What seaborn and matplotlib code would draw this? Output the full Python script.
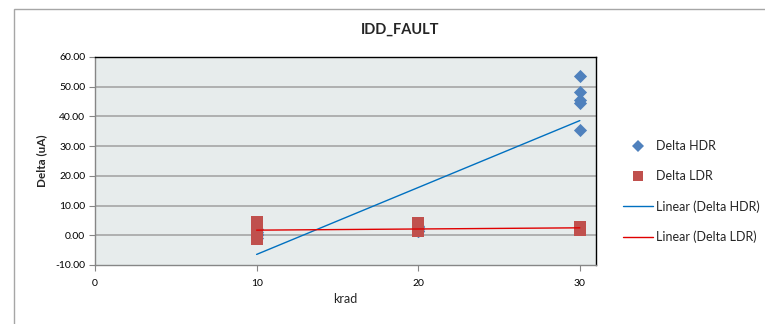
import numpy as np
import pandas as pd
import matplotlib
matplotlib.use("Agg")
import matplotlib.pyplot as plt
from matplotlib.lines import Line2D
from matplotlib.patches import Rectangle
from matplotlib.ticker import FormatStrFormatter
import seaborn as sns

# Measured deltas per dose step
hdr_krad = [10, 10, 10, 10, 10, 20, 20, 20, 20, 20, 30, 30, 30, 30, 30]
hdr_delta = [-1.0, 0.0, 0.5, 1.0, 2.0, 1.3, 1.6, 2.2, 2.7, 3.2, 53.7, 48.3, 45.6, 44.6, 35.5]

ldr_krad = [10, 10, 10, 10, 10, 20, 20, 20, 20, 30, 30, 30]
ldr_delta = [4.5, 3.0, 1.5, 0.0, -1.3, 4.0, 3.0, 2.0, 1.35, 2.7, 2.2, 1.7]

x_ticks = [0, 10, 20, 30]
y_ticks = [-10, 0, 10, 20, 30, 40, 50, 60]

hdr = pd.DataFrame({"krad": hdr_krad, "delta": hdr_delta})
ldr = pd.DataFrame({"krad": ldr_krad, "delta": ldr_delta})

sns.set_theme(style="white")
plt.rcParams["font.family"] = ["Lato", "DejaVu Sans"]

fig = plt.figure(figsize=(7.65, 3.24), dpi=100)
ax = fig.add_axes([95 / 765, 1 - 265 / 324, (596 - 95) / 765, (265 - 57) / 324])

# chart-area border
fig.patches.append(Rectangle((14 / 765, -0.1), 1.2, 1 - 9 / 324 + 0.1,
                             transform=fig.transFigure, fill=False,
                             edgecolor="#A6A6A6", linewidth=1.0))

ax.set_facecolor("#E7ECEC")
for y in y_ticks[1:-1]:
    ax.axhline(y, color="#A6A6A6", linewidth=1.2, zorder=1)

blue_m = "#4F81BD"
red_m = "#C0504D"
blue_l = "#0070C0"
red_l = "#E00000"

sns.scatterplot(data=hdr, x="krad", y="delta", ax=ax, marker="D", s=45,
                color=blue_m, edgecolor=blue_m, linewidth=0, zorder=3, legend=False)
sns.scatterplot(data=ldr, x="krad", y="delta", ax=ax, marker="s", s=66,
                color=red_m, edgecolor=red_m, linewidth=0, zorder=4, legend=False)

sns.regplot(data=hdr, x="krad", y="delta", ax=ax, scatter=False, ci=None,
            truncate=True, line_kws={"color": blue_l, "linewidth": 1.0, "zorder": 5})
sns.regplot(data=ldr, x="krad", y="delta", ax=ax, scatter=False, ci=None,
            truncate=True, line_kws={"color": red_l, "linewidth": 1.0, "zorder": 5})

ax.set_xlim(0, 31)
ax.set_ylim(-10, 60)
ax.set_xticks(x_ticks)
ax.set_yticks(y_ticks)
ax.yaxis.set_major_formatter(FormatStrFormatter("%.2f"))
ax.tick_params(axis="both", which="major", direction="out", length=4, width=0.8,
               color="#868686", labelsize=7.5, colors="black", pad=3)
ax.tick_params(axis="x", pad=6)
ax.tick_params(bottom=True, left=True)

for side in ["left", "bottom"]:
    ax.spines[side].set_color("#868686")
    ax.spines[side].set_linewidth(1.0)
for side in ["top", "right"]:
    ax.spines[side].set_color("#000000")
    ax.spines[side].set_linewidth(1.0)

ax.set_xlabel("krad", fontsize=9, labelpad=4)
ax.set_ylabel("Delta (uA)", fontsize=8.5, fontweight="bold", labelpad=6)
fig.text(400 / 765, 1 - 30 / 324, "IDD_FAULT", fontsize=10.5, fontweight="bold",
         ha="center", va="center")

handles = [
    Line2D([], [], linestyle="none", marker="D", markersize=6, color=blue_m, markeredgewidth=0),
    Line2D([], [], linestyle="none", marker="s", markersize=7, color=red_m, markeredgewidth=0),
    Line2D([], [], color=blue_l, linewidth=1.0),
    Line2D([], [], color=red_l, linewidth=1.0),
]
labels = ["Delta HDR", "Delta LDR", "Linear (Delta HDR)", "Linear (Delta LDR)"]
fig.legend(handles, labels, loc="upper left", bbox_to_anchor=(618 / 765, 1 - 135 / 324),
           frameon=False, fontsize=9, handlelength=2.4, handletextpad=0.25,
           labelspacing=1.45, borderaxespad=0)

fig.savefig("out.png", dpi=100)
